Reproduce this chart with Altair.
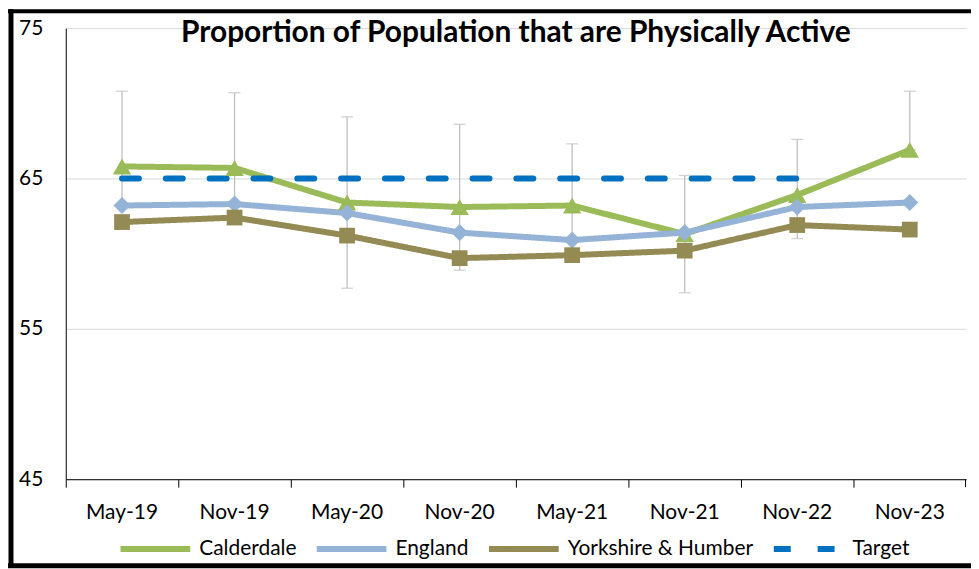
import altair as alt
import pandas as pd

months = ["May-19", "Nov-19", "May-20", "Nov-20", "May-21", "Nov-21", "Nov-22", "Nov-23"]
calderdale = [65.8, 65.7, 63.4, 63.1, 63.2, 61.3, 63.9, 66.9]
england = [63.2, 63.3, 62.7, 61.4, 60.9, 61.4, 63.1, 63.4]
yorkshire = [62.1, 62.4, 61.2, 59.7, 59.9, 60.2, 61.9, 61.6]
target = [65, 65, 65, 65, 65, 65, 65, None]
ci_upper = [70.8, 70.7, 69.1, 68.6, 67.3, 65.2, 67.6, 70.8]
ci_lower = [63.2, 63.3, 57.7, 58.9, 60.9, 57.4, 61.0, 66.9]

series_names = ["Calderdale", "England", "Yorkshire & Humber", "Target"]
series_colors = ["#9BBB59", "#95B3D7", "#948A54", "#0070C0"]
series_dash = [[1, 0], [1, 0], [1, 0], [17, 27]]

rows = []
for name, vals in zip(series_names, [calderdale, england, yorkshire, target]):
    for m, v in zip(months, vals):
        if v is not None:
            rows.append({"month": m, "series": name, "value": v})
df = pd.DataFrame(rows)
ci = pd.DataFrame({"month": months, "lower": ci_lower, "upper": ci_upper})

FONT = "Lato"

x_enc = alt.X("month:N", sort=months, title=None,
              scale=alt.Scale(paddingInner=0, paddingOuter=0),
              axis=alt.Axis(labelAngle=0, bandPosition=0, domainColor="#000000",
                            tickColor="#000000", tickSize=8, labelPadding=14,
                            labelFontSize=21, labelColor="#000000", labelFont=FONT))
y_scale = alt.Scale(domain=[45, 75], nice=False, zero=False)
y_axis = alt.Axis(values=[45, 55, 65, 75], grid=True, gridColor="#D9D9D9", ticks=False,
                  domainColor="#000000", labelPadding=23, labelFontSize=21,
                  labelColor="#000000", labelFont=FONT)

err = alt.Chart(ci).mark_rule(color="#BFBFBF", strokeWidth=1.3).encode(
    x=x_enc,
    y=alt.Y("lower:Q", scale=y_scale, axis=y_axis, title=None),
    y2="upper:Q",
)
cap_top = alt.Chart(ci).mark_tick(color="#BFBFBF", size=12, thickness=1.3).encode(
    x=alt.X("month:N", sort=months), y=alt.Y("upper:Q"))
cap_bot = alt.Chart(ci).mark_tick(color="#BFBFBF", size=12, thickness=1.3).encode(
    x=alt.X("month:N", sort=months), y=alt.Y("lower:Q"))

legend = alt.Legend(title=None, orient="none", legendX=52, legendY=485,
                    direction="horizontal", symbolType="stroke", symbolStrokeWidth=6,
                    symbolSize=4900, labelFontSize=21, labelFont=FONT, labelLimit=0,
                    labelColor="#000000", columnPadding=8, labelOffset=6)

lines = alt.Chart(df).mark_line(strokeWidth=6, strokeCap="round", strokeJoin="round").encode(
    x=alt.X("month:N", sort=months),
    y=alt.Y("value:Q"),
    color=alt.Color("series:N", sort=series_names,
                    scale=alt.Scale(domain=series_names, range=series_colors),
                    legend=legend),
    strokeDash=alt.StrokeDash("series:N", sort=series_names,
                              scale=alt.Scale(domain=series_names, range=series_dash),
                              legend=legend),
)

pts = alt.Chart(df[df["series"] != "Target"]).mark_point(filled=True, opacity=1).encode(
    x=alt.X("month:N", sort=months),
    y=alt.Y("value:Q"),
    color=alt.Color("series:N", sort=series_names, legend=legend),
    shape=alt.Shape("series:N", scale=alt.Scale(domain=series_names[:3],
                    range=["triangle-up", "diamond", "square"]), legend=None),
    size=alt.Size("series:N", scale=alt.Scale(domain=series_names[:3],
                  range=[340, 250, 190]), legend=None),
)

frame_data = alt.Data(values=[{"k": 1}])
end_tick = alt.Chart(frame_data).mark_rule(color="#000000", strokeWidth=1).encode(
    x=alt.value(903.5), y=alt.value(453), y2=alt.value(461))
frame_left = alt.Chart(frame_data).mark_rule(color="#000000", strokeWidth=5).encode(
    x=alt.value(-55), y=alt.value(-19), y2=alt.value(542))
frame_top = alt.Chart(frame_data).mark_rule(color="#000000", strokeWidth=4).encode(
    x=alt.value(-58), x2=alt.value(912), y=alt.value(-17))
frame_bot = alt.Chart(frame_data).mark_rule(color="#000000", strokeWidth=5).encode(
    x=alt.value(-58), x2=alt.value(912), y=alt.value(540))

chart = alt.layer(err, cap_top, cap_bot, lines, pts, end_tick,
                  frame_left, frame_top, frame_bot).properties(
    width=904, height=453,
    title=alt.TitleParams("Proportion of Population that are Physically Active",
                          font=FONT, fontSize=30, fontWeight="bold", color="#000000",
                          anchor="middle", dy=45),
    autosize=alt.AutoSizeParams(type="none"),
    padding={"left": 58, "top": 19, "right": 5, "bottom": 89},
).resolve_scale(shape="independent", size="independent").configure_view(stroke=None)

chart.save("out.html", embed_options={"renderer": "svg", "actions": False})
